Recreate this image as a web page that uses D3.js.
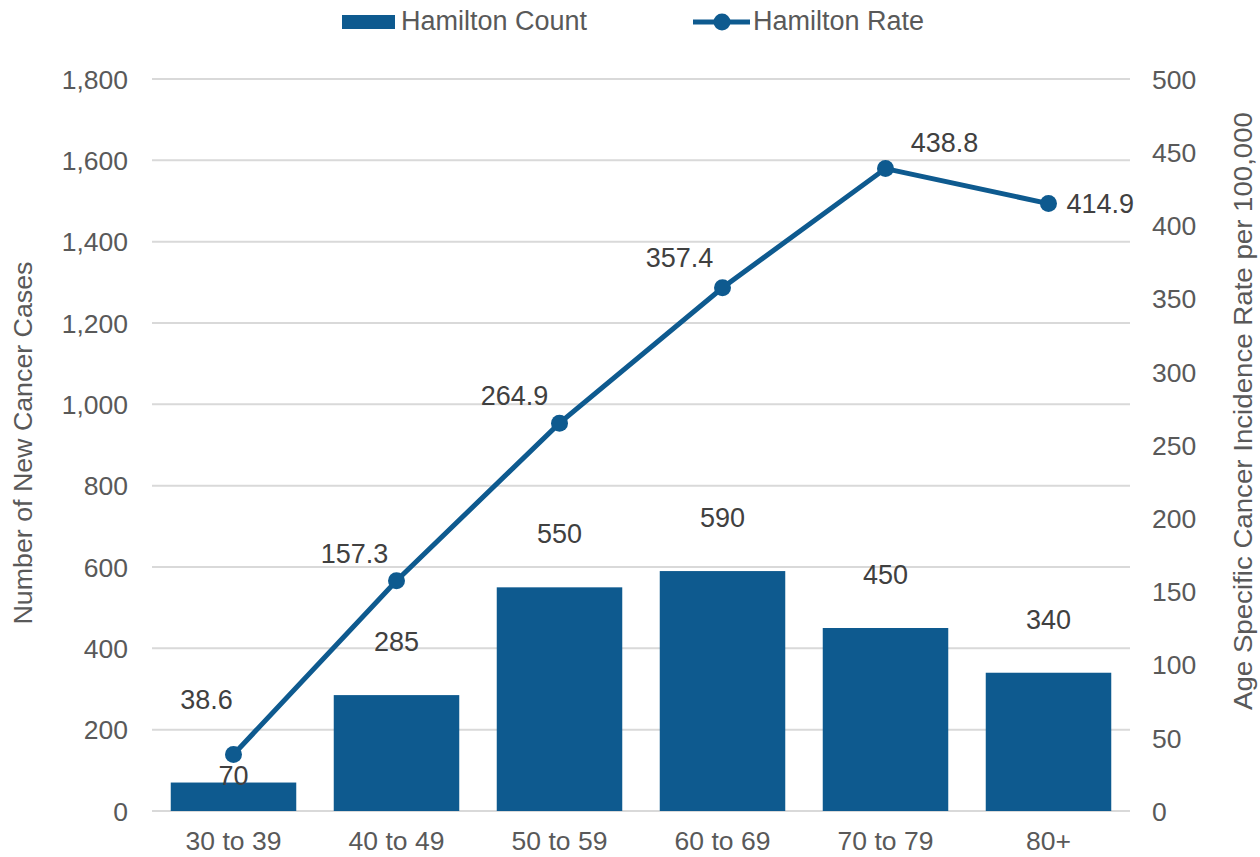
<!DOCTYPE html>
<meta charset="utf-8">
<style>
body { margin: 0; background: #fff; }
text { font-family: "Liberation Sans", Arial, sans-serif; }
</style>
<svg id="chart" width="1260" height="857"></svg>
<script src="https://d3js.org/d3.v7.min.js"></script>
<script>

var categories = ["30 to 39", "40 to 49", "50 to 59", "60 to 69", "70 to 79", "80+"];
var counts = [70, 285, 550, 590, 450, 340];
var rates = [38.6, 157.3, 264.9, 357.4, 438.8, 414.9];
var countTicks = [0, 200, 400, 600, 800, 1000, 1200, 1400, 1600, 1800];
var rateTicks = [0, 50, 100, 150, 200, 250, 300, 350, 400, 450, 500];

var blue = "#0e5a8f",
    tickGrey = "#595959",
    labelGrey = "#404040";

var svg = d3.select("#chart"),
    margin = {top: 79, right: 130, bottom: 46, left: 152},
    width = +svg.attr("width") - margin.left - margin.right,
    height = +svg.attr("height") - margin.top - margin.bottom;

var g = svg.append("g")
    .attr("transform", "translate(" + margin.left + "," + margin.top + ")");

var x = d3.scaleBand()
    .domain(categories)
    .range([0, width])
    .paddingInner(0.23)
    .paddingOuter(0.115);

var y = d3.scaleLinear().domain([0, 1800]).range([height, 0]);
var y2 = d3.scaleLinear().domain([0, 500]).range([height, 0]);

// gridlines
g.append("g")
  .selectAll("line")
  .data(countTicks)
  .enter().append("line")
    .attr("x1", 0)
    .attr("x2", width)
    .attr("y1", function(d) { return y(d); })
    .attr("y2", function(d) { return y(d); })
    .attr("stroke", "#d9d9d9")
    .attr("stroke-width", 2);

// left axis
var leftAxis = g.append("g")
    .call(d3.axisLeft(y).tickValues(countTicks).tickSize(0).tickPadding(24).tickFormat(d3.format(",")));
leftAxis.select(".domain").remove();
leftAxis.selectAll("text")
    .attr("fill", tickGrey)
    .style("font-size", "26.5px")
    .attr("dy", "0.35em");

// right axis
var rightAxis = g.append("g")
    .attr("transform", "translate(" + width + ",0)")
    .call(d3.axisRight(y2).tickValues(rateTicks).tickSize(0).tickPadding(22));
rightAxis.select(".domain").remove();
rightAxis.selectAll("text")
    .attr("fill", tickGrey)
    .style("font-size", "26.5px")
    .attr("dy", "0.35em");

// bottom axis
var bottomAxis = g.append("g")
    .attr("transform", "translate(0," + height + ")")
    .call(d3.axisBottom(x).tickSize(0).tickPadding(20));
bottomAxis.select(".domain").remove();
bottomAxis.selectAll("text")
    .attr("fill", tickGrey)
    .style("font-size", "26.5px")
    .attr("dy", "0.71em");

// bars
g.append("g")
  .selectAll("rect")
  .data(counts)
  .enter().append("rect")
    .attr("x", function(d, i) { return x(categories[i]); })
    .attr("y", function(d) { return y(d); })
    .attr("width", x.bandwidth())
    .attr("height", function(d) { return height - y(d); })
    .attr("fill", blue);

// count labels (the first one sits on the bar, under the line marker)
g.append("g")
  .selectAll("text")
  .data(counts)
  .enter().append("text")
    .attr("x", function(d, i) { return x(categories[i]) + x.bandwidth() / 2; })
    .attr("y", function(d, i) { return i === 0 ? y(d) + 2 : y(d) - 44; })
    .attr("text-anchor", "middle")
    .attr("fill", labelGrey)
    .style("font-size", "27px")
    .text(function(d) { return d; });

// rate line
var line = d3.line()
    .x(function(d, i) { return x(categories[i]) + x.bandwidth() / 2; })
    .y(function(d) { return y2(d); });

g.append("path")
    .datum(rates)
    .attr("d", line)
    .attr("fill", "none")
    .attr("stroke", blue)
    .attr("stroke-width", 5);

g.append("g")
  .selectAll("circle")
  .data(rates)
  .enter().append("circle")
    .attr("cx", function(d, i) { return x(categories[i]) + x.bandwidth() / 2; })
    .attr("cy", function(d) { return y2(d); })
    .attr("r", 8.5)
    .attr("fill", blue);

// rate labels: left-above for the rising part, then right
var labelPos = [
  {dx: -27, dy: -45, anchor: "middle"},
  {dx: -42, dy: -18, anchor: "middle"},
  {dx: -45, dy: -18, anchor: "middle"},
  {dx: -43, dy: -21, anchor: "middle"},
  {dx: 59, dy: -17, anchor: "middle"},
  {dx: 18, dy: 9, anchor: "start"}
];
g.append("g")
  .selectAll("text")
  .data(rates)
  .enter().append("text")
    .attr("x", function(d, i) { return x(categories[i]) + x.bandwidth() / 2 + labelPos[i].dx; })
    .attr("y", function(d, i) { return y2(d) + labelPos[i].dy; })
    .attr("text-anchor", function(d, i) { return labelPos[i].anchor; })
    .attr("fill", labelGrey)
    .style("font-size", "27px")
    .text(function(d) { return d3.format(".1f")(d); });

// axis titles
svg.append("text")
    .attr("transform", "translate(32,443) rotate(-90)")
    .attr("text-anchor", "middle")
    .attr("fill", tickGrey)
    .style("font-size", "25px")
    .attr("textLength", 363)
    .attr("lengthAdjust", "spacingAndGlyphs")
    .text("Number of New Cancer Cases");

svg.append("text")
    .attr("transform", "translate(1252,411) rotate(-90)")
    .attr("text-anchor", "middle")
    .attr("fill", tickGrey)
    .style("font-size", "25px")
    .attr("textLength", 598)
    .attr("lengthAdjust", "spacingAndGlyphs")
    .text("Age Specific Cancer Incidence Rate per 100,000");

// legend
var legend = svg.append("g");
legend.append("rect")
    .attr("x", 342).attr("y", 15)
    .attr("width", 53).attr("height", 14)
    .attr("fill", blue);
legend.append("text")
    .attr("x", 401).attr("y", 30)
    .attr("fill", tickGrey)
    .style("font-size", "27px")
    .text("Hamilton Count");
legend.append("line")
    .attr("x1", 693).attr("x2", 750)
    .attr("y1", 22).attr("y2", 22)
    .attr("stroke", blue)
    .attr("stroke-width", 5);
legend.append("circle")
    .attr("cx", 722).attr("cy", 22).attr("r", 8.5)
    .attr("fill", blue);
legend.append("text")
    .attr("x", 753).attr("y", 30)
    .attr("fill", tickGrey)
    .style("font-size", "27px")
    .text("Hamilton Rate");

</script>
